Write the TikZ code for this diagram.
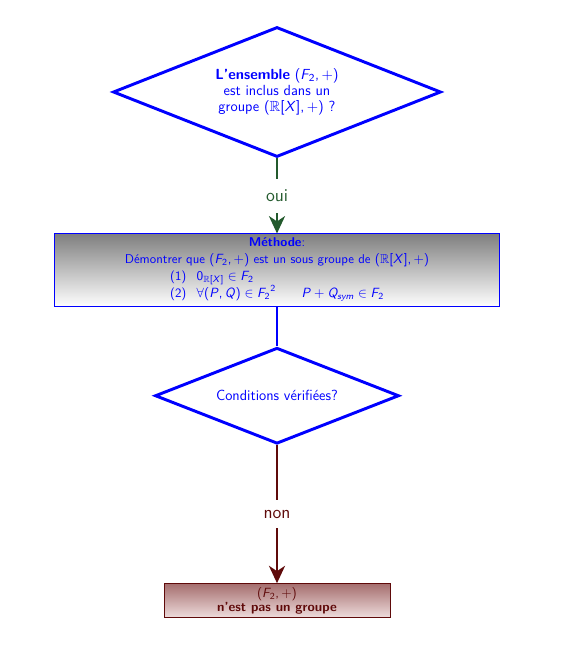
\documentclass[tikz,border=0pt]{standalone}
\usepackage{amsmath,amssymb}
\usetikzlibrary{shapes.geometric, arrows.meta, positioning}
% lettres et chiffres des formules en sans serif
\DeclareSymbolFont{sfit}{OT1}{cmss}{m}{sl}
\DeclareSymbolFont{sfup}{OT1}{cmss}{m}{n}
\DeclareMathSymbol{F}{\mathalpha}{sfit}{`F}
\DeclareMathSymbol{P}{\mathalpha}{sfit}{`P}
\DeclareMathSymbol{Q}{\mathalpha}{sfit}{`Q}
\DeclareMathSymbol{X}{\mathalpha}{sfit}{`X}
\DeclareMathSymbol{s}{\mathalpha}{sfit}{`s}
\DeclareMathSymbol{y}{\mathalpha}{sfit}{`y}
\DeclareMathSymbol{m}{\mathalpha}{sfit}{`m}
\DeclareMathSymbol{0}{\mathalpha}{sfup}{`0}
\DeclareMathSymbol{2}{\mathalpha}{sfup}{`2}
\DeclareMathSymbol{+}{\mathbin}{sfup}{`+}
\DeclareMathSymbol{,}{\mathpunct}{sfup}{`,}
\DeclareMathSymbol{(}{\mathopen}{sfup}{`(}
\DeclareMathSymbol{)}{\mathclose}{sfup}{`)}
\DeclareMathSymbol{[}{\mathopen}{sfup}{`[}
\DeclareMathSymbol{]}{\mathclose}{sfup}{`]}
\definecolor{ouivert}{RGB}{35,90,45}
\definecolor{nonrouge}{RGB}{95,10,10}
\definecolor{finhaut}{RGB}{165,110,110}
\definecolor{finbas}{RGB}{238,220,220}

\begin{document}
\begin{tikzpicture}[
    question/.style={diamond, shape aspect=2.5, draw=blue, line width=2.2pt, text=blue, align=center, inner sep=0pt, font=\sffamily\fontsize{11}{12}\selectfont},
    methode/.style={rectangle, draw=blue, line width=0.6pt, top color=gray, bottom color=white, text=blue, align=center, inner sep=0pt, font=\sffamily\fontsize{9.6}{12.75}\selectfont},
    fin/.style={rectangle, draw=nonrouge, line width=0.6pt, top color=finhaut, bottom color=finbas, text=nonrouge, align=center, inner sep=0pt, font=\sffamily\fontsize{9.9}{10.5}\selectfont},
    lbl/.style={fill=white, inner xsep=2pt, inner ysep=8pt, font=\sffamily\fontsize{13.5}{16}\selectfont},
    fleche/.style={line width=2.2pt, -{Stealth[length=13pt, width=12pt, inset=4pt]}}
]
    \useasboundingbox (0,0) rectangle (420.75pt,-499.5pt);

    \node[question, minimum width=246pt, minimum height=97.5pt] (q1) at (207.75pt,-69pt)
        {\textbf{L'ensemble} $(F_2,+)$\\ est inclus dans un\\ groupe $(\mathbb{R}[X],+)$ ?};
    \node[methode, minimum width=333.75pt, minimum height=54.75pt, below=56.25pt of q1] (meth) {
        \textbf{Méthode}:\\
        Démontrer que $(F_2,+)$ est un sous groupe de $(\mathbb{R}[X],+)$\\
        \begin{tabular}{@{}l@{\hspace{0.8em}}l@{}}
            (1) & $0_{\mathbb{R}[X]}\in F_2$\\
            (2) & $\forall (P,Q)\in {F_2}^2 \qquad P+Q_{sym}\in F_2$
        \end{tabular}
    };
    \node[question, minimum width=183pt, minimum height=72pt, below=29.25pt of meth] (q2) {Conditions vérifiées?};
    \node[fin, minimum width=169.5pt, minimum height=25.5pt, below=103.5pt of q2] (nongr)
        {$(F_2,+)$\\ \textbf{n'est pas un groupe}};

    \draw[fleche, ouivert] (q1) -- node[lbl, text=ouivert] {oui} (meth);
    \draw[blue, line width=1.5pt] (meth) -- (q2);
    \draw[fleche, nonrouge] (q2) -- node[lbl, text=nonrouge, inner ysep=7.5pt] {non} (nongr);
\end{tikzpicture}
\end{document}
